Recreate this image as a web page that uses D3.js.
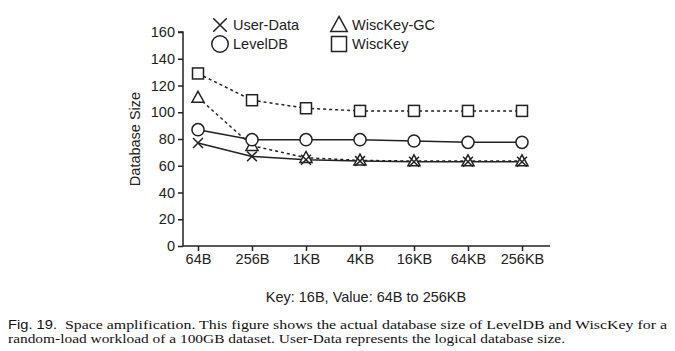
<!DOCTYPE html>
<html>
<head>
<meta charset="utf-8">
<script src="https://cdn.jsdelivr.net/npm/d3@7"></script>
<style>
  body { margin: 0; background: #fff; }
  svg { display: block; }
</style>
</head>
<body>
<div id="chart"></div>
<script>
// Data
const categories = ["64B", "256B", "1KB", "4KB", "16KB", "64KB", "256KB"];
const userData   = [77, 67, 64.5, 63.5, 63, 63, 63];
const levelDB    = [87, 79.5, 79.5, 79.5, 78.5, 77.5, 77.5];
const wisckeyGC  = [111, 75, 66, 64, 63.5, 63.5, 63.5];
const wisckey    = [129, 109, 103, 101, 101, 101, 101];
const yTicks     = [0, 20, 40, 60, 80, 100, 120, 140, 160];

const series = [
  { name: "WiscKey",    values: wisckey,   marker: "square",   dash: "3,3" },
  { name: "WiscKey-GC", values: wisckeyGC, marker: "triangle", dash: "3,3" },
  { name: "LevelDB",    values: levelDB,   marker: "circle",   dash: null },
  { name: "User-Data",  values: userData,  marker: "cross",    dash: null }
];

const width = 675, height = 351;
const ink = "#222";
const svg = d3.select("#chart").append("svg")
  .attr("width", width)
  .attr("height", height)
  .style("font-family", "'Liberation Sans', Arial, sans-serif");

const x = d3.scalePoint().domain(categories).range([198, 522]);
const y = d3.scaleLinear().domain([0, 160]).range([246, 32]);

// axes
const yAxis = svg.append("g")
  .attr("transform", "translate(183,0)")
  .call(d3.axisLeft(y).tickValues(yTicks).tickSize(5).tickPadding(3));
const xAxis = svg.append("g")
  .attr("transform", "translate(0,246)")
  .call(d3.axisBottom(x).tickSize(5).tickPadding(3));

xAxis.select(".domain").attr("d", "M183,0H550");
yAxis.select(".domain").attr("d", "M-5,32H0V246");
[xAxis, yAxis].forEach(a => {
  a.selectAll("line, path").attr("stroke", ink).attr("stroke-width", 1.5);
  a.selectAll("text").attr("fill", ink).style("font-size", "14.5px");
});

// axis titles
svg.append("text")
  .attr("transform", "translate(140,139) rotate(-90)")
  .attr("text-anchor", "middle")
  .attr("fill", ink)
  .style("font-size", "14.5px")
  .text("Database Size");

svg.append("text")
  .attr("x", 366).attr("y", 302)
  .attr("text-anchor", "middle")
  .attr("fill", ink)
  .style("font-size", "14.5px")
  .text("Key: 16B, Value: 64B to 256KB");

// marker drawing
function drawMarker(g, type, s) {
  if (type === "circle") {
    g.append("circle").attr("r", s * 0.55);
  } else if (type === "square") {
    g.append("rect").attr("x", -s / 2).attr("y", -s / 2).attr("width", s).attr("height", s);
  } else if (type === "triangle") {
    const h = s * 0.95;
    g.append("path").attr("d", `M0,${-h * 0.6}L${s * 0.55},${h * 0.45}L${-s * 0.55},${h * 0.45}Z`);
  } else {
    const r = s * 0.45;
    g.append("path").attr("d", `M${-r},${-r}L${r},${r}M${r},${-r}L${-r},${r}`);
  }
  g.selectAll("*").attr("fill", type === "cross" ? "none" : "#fff")
    .attr("stroke", ink).attr("stroke-width", 1.5);
}

const line = d3.line().x((d, i) => x(categories[i])).y(d => y(d));

series.forEach(s => {
  svg.append("path")
    .datum(s.values)
    .attr("d", line)
    .attr("fill", "none")
    .attr("stroke", ink)
    .attr("stroke-width", 1.5)
    .attr("stroke-dasharray", s.dash);
});

series.forEach(s => {
  s.values.forEach((v, i) => {
    const g = svg.append("g").attr("transform", `translate(${x(categories[i])},${y(v)})`);
    drawMarker(g, s.marker, 11);
  });
});

// legend
const legendItems = [
  { name: "User-Data",  marker: "cross",    lx: 220, ly: 25 },
  { name: "LevelDB",    marker: "circle",   lx: 220, ly: 44 },
  { name: "WiscKey-GC", marker: "triangle", lx: 339, ly: 25 },
  { name: "WiscKey",    marker: "square",   lx: 339, ly: 44 }
];
legendItems.forEach(d => {
  const g = svg.append("g").attr("transform", `translate(${d.lx},${d.ly})`);
  drawMarker(g, d.marker, 15);
  svg.append("text")
    .attr("x", d.lx + 13).attr("y", d.ly + 5)
    .attr("fill", ink)
    .style("font-size", "14.5px")
    .text(d.name);
});

// caption
const caption = svg.append("g")
  .style("font-family", "'Liberation Serif', 'Times New Roman', serif")
  .style("font-size", "13.5px")
  .attr("fill", "#111");
const cap1 = caption.append("text")
  .attr("x", 8).attr("y", 329)
  .attr("textLength", 659)
  .attr("lengthAdjust", "spacingAndGlyphs");
cap1.append("tspan")
  .style("font-family", "'Liberation Sans', Arial, sans-serif")
  .style("font-size", "12.5px")
  .text("Fig. 19.");
cap1.append("tspan")
  .text("\u00a0\u00a0Space amplification. This figure shows the actual database size of LevelDB and WiscKey for a");
caption.append("text")
  .attr("x", 8).attr("y", 343)
  .attr("textLength", 557)
  .attr("lengthAdjust", "spacingAndGlyphs")
  .text("random-load workload of a 100GB dataset. User-Data represents the logical database size.");
</script>
</body>
</html>
